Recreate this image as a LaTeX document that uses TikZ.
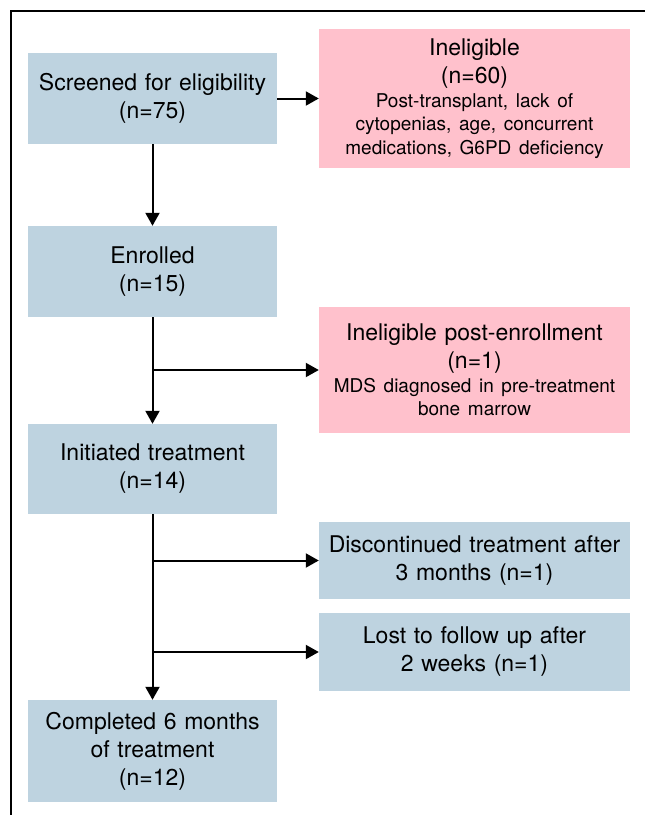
\documentclass[tikz,border=0pt]{standalone}
\usepackage{fontspec}
\setmainfont{TeX Gyre Heros}
\usetikzlibrary{arrows.meta}
\definecolor{boxblue}{RGB}{190,211,224}
\definecolor{boxpink}{RGB}{255,193,204}
\newcommand{\smtxt}{\fontsize{19}{23.5}\selectfont}
\begin{document}
\begin{tikzpicture}[x=1pt,y=-1pt,
  bluebox/.style={fill=boxblue, draw=none, minimum width=249pt, minimum height=#1,
    inner sep=0pt, text width=245pt, align=center, font=\fontsize{23}{28}\selectfont},
  sidebox/.style={fill=#1, draw=none, minimum width=311pt,
    inner sep=0pt, text width=305pt, align=center, font=\fontsize{23}{28}\selectfont},
  arr/.style={line width=2pt, -{Triangle[length=13pt,width=14pt]}},
  frameline/.style={line width=2.6pt}]
\useasboundingbox (0,0) rectangle (645,815);
% frame
\coordinate (fb) at (11,815);
\coordinate (fc) at (11,10.8);
\coordinate (fr) at (645,10.8);
\draw[frameline] (fb) -- (fc) -- (fr);
% main column
\node[bluebox=91pt] (scr) at (152.5,98.5) {Screened for eligibility\\(n=75)};
\node[bluebox=91pt] (enr) at (152.5,271.5) {Enrolled\\(n=15)};
\node[bluebox=90pt] (init) at (152.5,469) {Initiated treatment\\(n=14)};
\node[bluebox=102pt] (comp) at (152.5,751) {Completed 6 months\\of treatment\\(n=12)};
% side boxes
\node[sidebox=boxpink, minimum height=139pt] (inel) at (474.5,98.5)
  {Ineligible\\(n=60)\par{\smtxt Post-transplant, lack of\\cytopenias, age, concurrent\\medications, G6PD deficiency\par}};
\node[sidebox=boxpink, minimum height=126pt] (inel2) at (474.5,370)
  {Ineligible post-enrollment\\(n=1)\par{\smtxt MDS diagnosed in pre-treatment\\bone marrow\par}};
\node[sidebox=boxblue, minimum height=77pt] (disc) at (474.5,560.5)
  {Discontinued treatment after\\3 months (n=1)};
\node[sidebox=boxblue, minimum height=78pt] (lost) at (474.5,652)
  {Lost to follow up after\\2 weeks (n=1)};
% connectors
\draw[arr] (scr) -- (inel);
\draw[arr] (scr) -- (enr);
\draw[arr] (enr) -- (init);
\draw[arr] (enr.south |- inel2.west) -- (inel2.west);
\draw[arr] (init) -- (comp);
\draw[arr] (init.south |- disc.west) -- (disc.west);
\draw[arr] (init.south |- lost.west) -- (lost.west);
\end{tikzpicture}
\end{document}
